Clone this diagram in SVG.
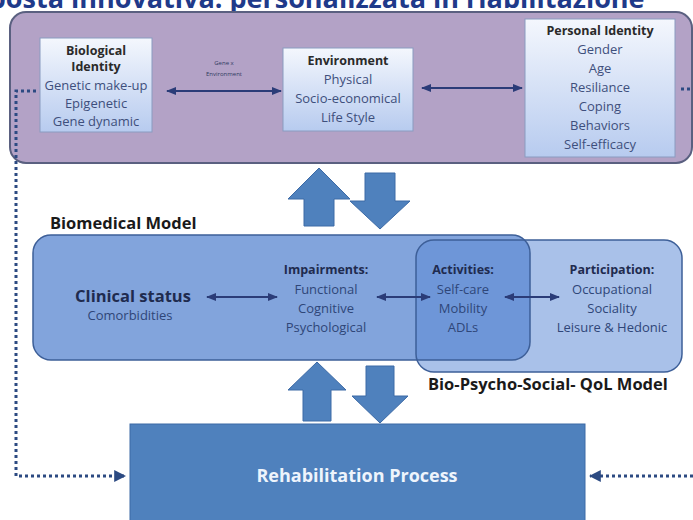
<svg xmlns="http://www.w3.org/2000/svg" width="693" height="520" viewBox="0 0 693 520">
<defs>
<linearGradient id="boxg" x1="0" y1="0" x2="0" y2="1">
<stop offset="0" stop-color="#f4f7fd"/>
<stop offset="1" stop-color="#b7cbef"/>
</linearGradient>
<marker id="ah" viewBox="0 0 10 10" refX="9" refY="5" markerWidth="5" markerHeight="5" orient="auto-start-reverse">
<path d="M0,1 L10,5 L0,9 z" fill="#2b3c78"/>
</marker>
<marker id="ahd" viewBox="0 0 10 10" refX="9" refY="5" markerWidth="4" markerHeight="4" orient="auto">
<path d="M0,0 L10,5 L0,10 z" fill="#2c4a82"/>
</marker>
</defs>
<style>
.t{font-family:"Open Sans","Liberation Sans",sans-serif;text-anchor:middle}
.b{font-weight:bold;fill:#2a2a2a;font-size:12.5px}
.r{fill:#3e4f7c;font-size:13px}
.cb{font-weight:bold;fill:#1f2b4f;font-size:12.5px}
.cr{fill:#2f4678;font-size:13px}
.small{fill:#303a60;font-size:6px}
.box{fill:url(#boxg);stroke:#8a9bc0;stroke-width:1}
.conn{stroke:#2b3c78;stroke-width:2;fill:none}
.dot{stroke:#2c4a82;stroke-width:3;stroke-dasharray:3 3;fill:none}
.big{fill:#4f81bd;stroke:#3c6aa6;stroke-width:1}
.lbl{font-family:"Open Sans","Liberation Sans",sans-serif;font-weight:bold;font-size:16.5px;fill:#1a1a1a}
</style>
<rect width="693" height="520" fill="#ffffff"/>
<text x="-28" y="8" font-family="Open Sans, Liberation Sans, sans-serif" font-weight="bold" font-size="27" fill="#1f3a8a">oposta innovativa: personalizzata in riabilitazione</text>

<g id="identity-panel">
<rect x="10" y="12" width="682" height="151" rx="16" fill="#b3a2c6" stroke="#5a6080" stroke-width="2"/>
</g>

<g id="biological">
<rect class="box" x="40" y="38" width="112" height="94"/>
<text class="t b" x="96" y="55">Biological</text>
<text class="t b" x="96" y="71">Identity</text>
<text class="t r" x="96" y="90">Genetic make-up</text>
<text class="t r" x="96" y="108">Epigenetic</text>
<text class="t r" x="96" y="126">Gene dynamic</text>
</g>

<g id="environment">
<rect class="box" x="283" y="48" width="130" height="83"/>
<text class="t b" x="348" y="65">Environment</text>
<text class="t r" x="348" y="84">Physical</text>
<text class="t r" x="348" y="103">Socio-economical</text>
<text class="t r" x="348" y="122">Life Style</text>
</g>

<g id="personal">
<rect class="box" x="525" y="19" width="150" height="138"/>
<text class="t b" x="600" y="35">Personal Identity</text>
<text class="t r" x="600" y="54">Gender</text>
<text class="t r" x="600" y="73">Age</text>
<text class="t r" x="600" y="92">Resiliance</text>
<text class="t r" x="600" y="111">Coping</text>
<text class="t r" x="600" y="130">Behaviors</text>
<text class="t r" x="600" y="149">Self-efficacy</text>
</g>

<g id="biomedical">
<text class="lbl" x="50" y="229">Biomedical Model</text>
<rect x="33" y="235" width="497" height="125" rx="18" fill="#82a4dc"/>
</g>
<g id="bps">
<rect x="416" y="240" width="266" height="132" rx="18" fill="#5c8ad5" fill-opacity="0.53"/>
<rect x="33" y="235" width="497" height="125" rx="18" fill="none" stroke="#3d5f98" stroke-width="1.5"/>
<rect x="416" y="240" width="266" height="132" rx="18" fill="none" stroke="#3d5f98" stroke-width="1.5"/>
<text class="lbl" x="428" y="390">Bio-Psycho-Social- QoL Model</text>
</g>

<g id="clinical">
<text class="t" x="133" y="302" font-size="16.5" font-weight="bold" fill="#1f2b4f">Clinical status</text>
<text class="t cr" x="130" y="320">Comorbidities</text>
</g>
<g id="impairments">
<text class="t cb" x="326" y="274">Impairments:</text>
<text class="t cr" x="326" y="294">Functional</text>
<text class="t cr" x="326" y="313">Cognitive</text>
<text class="t cr" x="326" y="332">Psychological</text>
</g>
<g id="activities">
<text class="t cb" x="463" y="274">Activities:</text>
<text class="t cr" x="463" y="294">Self-care</text>
<text class="t cr" x="463" y="313">Mobility</text>
<text class="t cr" x="463" y="332">ADLs</text>
</g>
<g id="participation">
<text class="t cb" x="612" y="274">Participation:</text>
<text class="t cr" x="612" y="294">Occupational</text>
<text class="t cr" x="612" y="313">Sociality</text>
<text class="t cr" x="612" y="332">Leisure &amp; Hedonic</text>
</g>

<g id="rehabilitation">
<rect x="130" y="424" width="455" height="100" class="big"/>
<text class="t" x="357" y="482" font-size="18" font-weight="bold" fill="#eef4fc">Rehabilitation Process</text>
</g>

<g id="connectors">
<line class="conn" x1="167" y1="91" x2="281" y2="91" marker-start="url(#ah)" marker-end="url(#ah)"/>
<text class="t small" x="224" y="65">Gene x</text>
<text class="t small" x="224" y="76">Environment</text>
<line class="conn" x1="422" y1="88" x2="522" y2="88" marker-start="url(#ah)" marker-end="url(#ah)"/>
<line class="conn" x1="207" y1="297" x2="277" y2="297" stroke-width="1.5" marker-start="url(#ah)" marker-end="url(#ah)"/>
<line class="conn" x1="377" y1="297" x2="430" y2="297" stroke-width="1.5" marker-start="url(#ah)" marker-end="url(#ah)"/>
<line class="conn" x1="505" y1="297" x2="559" y2="297" stroke-width="1.5" marker-start="url(#ah)" marker-end="url(#ah)"/>

<polyline class="dot" points="36,91 16,91 16,476 125,476" marker-end="url(#ahd)"/>
<polyline class="dot" points="681,89 693,89"/>
<polyline class="dot" points="693,476 590,476" marker-end="url(#ahd)"/>

<path class="big" d="M319,168 L350,199 L334,199 L334,226 L304,226 L304,199 L288,199 z"/>
<path class="big" d="M365,173 L395,173 L395,201 L410,201 L380,229 L350,201 L365,201 z"/>
<path class="big" d="M317,362 L346,390 L331,390 L331,421 L303,421 L303,390 L288,390 z"/>
<path class="big" d="M366,366 L394,366 L394,396 L408,396 L380,423 L352,396 L366,396 z"/>
</g>
</svg>
